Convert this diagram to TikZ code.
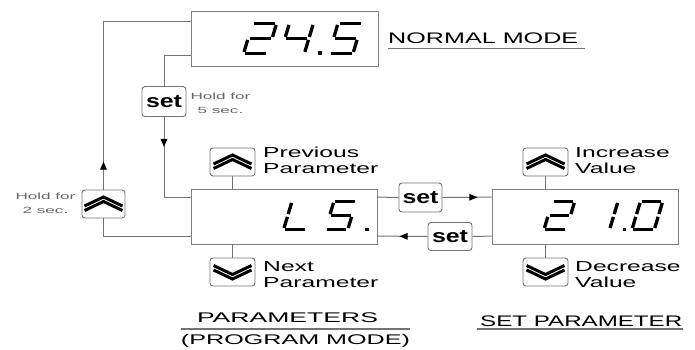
\documentclass[tikz,border=0pt]{standalone}
\usepackage{fontspec}
\setmainfont{Liberation Sans}
\usepackage{graphicx}
\usetikzlibrary{calc,arrows.meta,decorations.markings}

\newcommand\stx[2][1.7]{\scalebox{#1}[1]{#2}}
\newcommand\setl{\fontsize{18.5}{18.5}\selectfont\resizebox{36pt}{\height}{\bfseries set}}

\tikzset{
  seg/.style={line width=3.3pt, black, line cap=butt},
  dseg a/.style={insert path={(1.5,-30)--(22.5,-30)}},
  dseg b/.style={insert path={(24,-28.5)--(24,-16.5)}},
  dseg c/.style={insert path={(24,-13.5)--(24,-1.5)}},
  dseg d/.style={insert path={(1.5,0)--(22.5,0)}},
  dseg e/.style={insert path={(0,-13.5)--(0,-1.5)}},
  dseg f/.style={insert path={(0,-28.5)--(0,-16.5)}},
  dseg g/.style={insert path={(1.5,-15)--(22.5,-15)}},
  disp/.style={draw=black!50, line width=0.9pt, inner sep=0pt},
  btn/.style={draw=black!55, line width=0.9pt, rounded corners=3pt, fill=white,
    minimum width=45pt, minimum height=28pt, inner sep=0pt},
  chev/.style={line width=3pt, black, line cap=butt, line join=miter, sharp corners},
  upbtn/.style={btn, path picture={
    \draw[chev] ($(path picture bounding box.center)+(-19,2)$) -- ++(19,-9) -- ++(19,9);
    \draw[chev] ($(path picture bounding box.center)+(-19,6.5)$) -- ++(19,-9) -- ++(19,9);}},
  downbtn/.style={btn, path picture={
    \draw[chev] ($(path picture bounding box.center)+(-19,-2)$) -- ++(19,9) -- ++(19,-9);
    \draw[chev] ($(path picture bounding box.center)+(-19,-6.5)$) -- ++(19,9) -- ++(19,-9);}},
  setbtn/.style={btn, minimum width=44pt, minimum height=30pt},
  conn/.style={draw=black!55, line width=1pt},
  amark/.style={postaction={decorate, decoration={markings,
    mark=at position #1 with {\arrow[black]{Triangle[length=8pt,width=6.5pt]}}}}},
  uline/.style={draw=black!55, line width=1.1pt},
  side/.style={inner sep=0pt, align=left, font=\fontsize{14.5}{16}\selectfont, text=black},
  hold/.style={inner sep=0pt, align=center, font=\fontsize{9}{14}\selectfont, text=black!60},
  head/.style={inner sep=0pt, font=\fontsize{15.3}{16}\selectfont, text=black}
}

\newcommand\sevseg[4][1]{%
  \begin{scope}[shift={(#2,#3)}, xslant=0.3, scale=#1]
    \foreach \s in {#4} {\edef\tmpseg{\noexpand\draw[seg, dseg \s];}\tmpseg}
  \end{scope}}
\newcommand\segdot[2]{\fill[black] (#1-1.8,#2-1.8) rectangle (#1+1.8,#2+1.8);}

\begin{document}
\begin{tikzpicture}[x=1pt,y=-1pt]
\useasboundingbox (0,0) rectangle (695,349);

% displays
\node[disp, minimum width=187pt, minimum height=55pt] (top) at (284.5,38.5) {};
\node[disp, minimum width=186pt, minimum height=55pt] (mid) at (284,216.5) {};
\node[disp, minimum width=186pt, minimum height=55pt] (rgt) at (585,216.5) {};

% digits 24.5
\sevseg{243.6}{53.4}{a,b,g,e,d}
\sevseg{280.4}{53.4}{f,g,b,c}
\segdot{320}{53}
\sevseg{329}{53.4}{a,f,g,c,d}
% LS.
\sevseg[0.93]{283.6}{229.4}{f,e,d}
\sevseg[0.93]{325.5}{229.4}{a,f,g,c,d}
\segdot{367}{229.5}
% 21.0
\sevseg[0.93]{544}{229.4}{a,b,g,e,d}
\sevseg[0.93]{587.3}{229.4}{b,c}
\segdot{624.5}{229.5}
\sevseg[0.93]{632}{229.4}{a,b,c,d,e,f}

% buttons
\node[upbtn, minimum width=43pt] (hold) at (103.5,204) {};
\node[setbtn] (set5) at (164,101.5) {\setl};
\node[upbtn] (prev) at (232.5,162) {};
\node[downbtn] (next) at (232.5,272) {};
\node[upbtn] (inc) at (545.5,162) {};
\node[downbtn] (dec) at (545.5,272) {};
\node[setbtn, minimum width=43pt, minimum height=29pt] (s1) at (420.5,197.5) {\setl};
\node[setbtn, minimum height=28pt] (s2) at (450,236.5) {\setl};

% connectors
\draw[conn] ([yshift=-19.5pt]mid.west) -| (hold.south);
\draw[conn, amark=28pt] (hold.north) |- ([yshift=-11pt]top.north west);
\draw[conn] ([yshift=-45pt]top.north west) -| (set5.north);
\draw[conn, amark=30pt] (set5.south) |- ([yshift=-9pt]mid.north west);
\draw[conn] ([yshift=-8.5pt]mid.north east) -- (s1.west);
\draw[conn, amark=35pt] (s1.east) -- ([yshift=-8.5pt]rgt.north west);
\draw[conn] ([yshift=-47.5pt]rgt.north west) -- (s2.east);
\draw[conn, amark=28pt] (s2.west) -- ([yshift=-47.5pt]mid.north east);
\draw[conn] (prev.south) -- (mid.north -| prev.south);
\draw[conn] (mid.south -| next.north) -- (next.north);
\draw[conn] (inc.south) -- (rgt.north -| inc.south);
\draw[conn] (rgt.south -| dec.north) -- (dec.north);

% labels
\node[hold, anchor=north] (h5) at (220.5,93) {\stx[1.9]{Hold for}\\\stx[1.9]{5 sec.}};
\node[hold, anchor=north] (h2) at (45.5,193) {\stx[1.9]{Hold for}\\\stx[1.9]{2 sec.}};
\node[side, anchor=north west] (lprev) at (263,147) {\stx{Previous}\\\stx{Parameter}};
\node[side, anchor=north west] (lnext) at (263,261) {\stx{Next}\\\stx{Parameter}};
\node[side, anchor=north west] (linc) at (575,147) {\stx{Increase}\\\stx{Value}};
\node[side, anchor=north west] (ldec) at (575,261) {\stx{Decrease}\\\stx{Value}};

\node[head, anchor=base west] (normal) at (388,43.5) {\resizebox{190pt}{\height}{NORMAL MODE}};
\draw[uline] ($(normal.base west)+(0,5)$) -- ($(normal.base east)+(7,5)$);

\node[head, anchor=base west] (setp) at (480,326) {\resizebox{202pt}{\height}{SET PARAMETER}};
\draw[uline] ($(setp.base west)+(-3,3)$) -- ($(setp.base east)+(1,3)$);

\node[head, anchor=north, align=center, font=\fontsize{14}{22}\selectfont] (params) at (295.5,312.5)
  {\hspace*{-16pt}\resizebox{181pt}{\height}{PARAMETERS}\\\resizebox{229pt}{\height}{(PROGRAM MODE)}};
\coordinate (pu) at (0,329);
\draw[uline] (params.west |- pu) -- (params.east |- pu);
\end{tikzpicture}
\end{document}
